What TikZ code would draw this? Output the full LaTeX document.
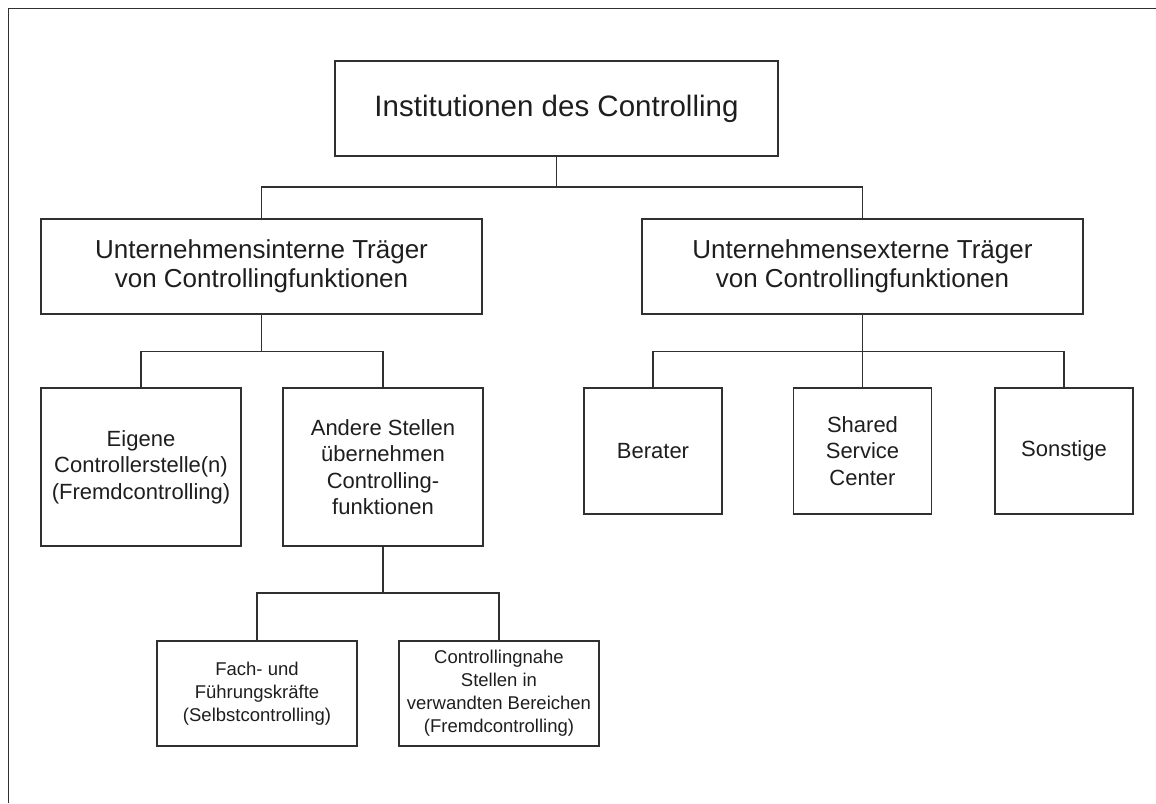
\documentclass[tikz,border=0pt]{standalone}
\usepackage{fontspec}
\setmainfont{Liberation Sans}
\definecolor{linec}{HTML}{303030}
\definecolor{textc}{HTML}{1E1E1E}
\tikzset{
  box/.style={draw=linec, line width=1.7pt, rectangle, inner sep=0pt, align=center, text=textc},
  lvlA/.style={box, font=\fontsize{29.5}{34}\selectfont},
  lvlB/.style={box, font=\fontsize{26}{29.5}\selectfont},
  lvlC/.style={box, font=\fontsize{22}{26.5}\selectfont},
  lvlD/.style={box, font=\fontsize{18.5}{23}\selectfont},
  conn/.style={draw=linec, line width=1.7pt},
}
\begin{document}
\begin{tikzpicture}[x=1pt,y=-1pt]
\useasboundingbox (0,0) rectangle (1156,803);
% frame
\draw[linec, line width=1.7pt] (8.5,803) -- (8.5,8.5) -- (1156,8.5);

\node[lvlA, minimum width=443pt, minimum height=95pt] (top) at (556.5,108.5) {Institutionen des Controlling};

\node[lvlB, minimum width=441pt, minimum height=95pt] (int) at (261.5,266.5) {Unternehmensinterne Träger\\ von Controllingfunktionen};
\node[lvlB, minimum width=441pt, minimum height=95pt] (ext) at (862.5,266.5) {Unternehmensexterne Träger\\ von Controllingfunktionen};

\node[lvlC, minimum width=200pt, minimum height=158pt] (eig) at (141,467) {Eigene\\Controllerstelle(n)\\(Fremdcontrolling)};
\node[lvlC, minimum width=200pt, minimum height=158pt] (and) at (383,467) {Andere Stellen\\übernehmen\\Controlling-\\funktionen};

\node[lvlC, minimum width=138pt, minimum height=126pt] (ber) at (653,451) {Berater};
\node[lvlC, minimum width=138pt, minimum height=126pt] (sha) at (862.5,451) {Shared\\Service\\Center};
\node[lvlC, minimum width=138pt, minimum height=126pt] (son) at (1064,451) {Sonstige};

\node[lvlD, minimum width=200pt, minimum height=105pt] (fach) at (257,693.5) {Fach- und\\Führungskräfte\\(Selbstcontrolling)};
\node[lvlD, minimum width=200pt, minimum height=105pt] (cnah) at (499,693.5) {Controllingnahe\\Stellen in\\verwandten Bereichen\\(Fremdcontrolling)};

% bars
\coordinate (b1) at (556.5,187);
\coordinate (b2) at (261.5,351.5);
\coordinate (b3) at (862.5,351.5);
\coordinate (b4) at (383,593);

\draw[conn] (top.south) -- (b1);
\draw[conn] (int.north) |- (b1) -| (ext.north);

\draw[conn] (int.south) -- (b2);
\draw[conn] (eig.north) |- (b2) -| (and.north);

\draw[conn] (ext.south) -- (sha.north);
\draw[conn] (ber.north) |- (b3) -| (son.north);

\draw[conn] (and.south) -- (b4);
\draw[conn] (fach.north) |- (b4) -| (cnah.north);
\end{tikzpicture}
\end{document}
